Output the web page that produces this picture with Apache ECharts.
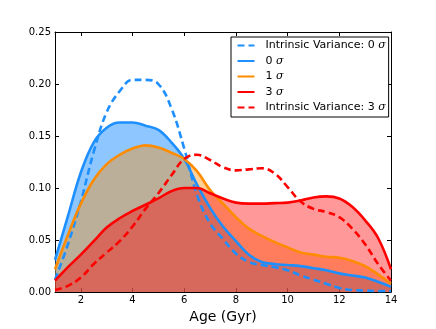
<!DOCTYPE html>
<html>
<head>
<meta charset="utf-8">
<script src="https://cdn.jsdelivr.net/npm/echarts@6/dist/echarts.min.js"></script>
<style>html,body{margin:0;padding:0;background:#fff}#c{width:436px;height:329px}</style>
</head>
<body>
<div id="c"></div>
<script>
const ages = [1,1.5,2,2.5,3,3.5,4,4.5,5,5.5,6,6.5,7,7.5,8,8.5,9,9.5,10,10.5,11,11.5,12,12.5,13,13.5,14];
const iv0 = [0.012,0.046,0.087,0.135,0.173,0.193,0.204,0.204,0.200,0.177,0.138,0.093,0.066,0.051,0.037,0.029,0.026,0.024,0.021,0.016,0.012,0.008,0.004,0.002,0.0015,0.001,0.001];
const s0 = [0.031,0.073,0.115,0.144,0.158,0.163,0.163,0.160,0.156,0.144,0.128,0.103,0.081,0.063,0.049,0.036,0.029,0.027,0.026,0.025,0.023,0.021,0.018,0.016,0.014,0.010,0.005];
const s1 = [0.022,0.055,0.085,0.108,0.123,0.132,0.138,0.141,0.139,0.134,0.128,0.116,0.098,0.085,0.072,0.061,0.054,0.048,0.043,0.038,0.036,0.034,0.033,0.030,0.025,0.017,0.008];
const s3 = [0.011,0.024,0.036,0.049,0.062,0.071,0.078,0.084,0.090,0.097,0.100,0.100,0.095,0.090,0.086,0.085,0.085,0.0855,0.086,0.088,0.091,0.092,0.090,0.082,0.069,0.052,0.022];
const iv3 = [0.002,0.006,0.014,0.027,0.038,0.049,0.063,0.080,0.095,0.112,0.128,0.132,0.127,0.120,0.117,0.118,0.119,0.114,0.101,0.087,0.080,0.077,0.072,0.061,0.046,0.027,0.011];
const xTicks = [2,4,6,8,10,12,14];
const names = ['Intrinsic Variance: 0 σ','0 σ','1 σ','3 σ','Intrinsic Variance: 3 σ'];

const pts = arr => ages.map((a,i)=>[a,arr[i]]);
const BLUE='#1e8fff', ORANGE='#ff8c00', RED='#ff0000';
const font='DejaVu Sans';

function area(data,color){
  return {type:'line',data:pts(data),smooth:0.4,symbol:'none',z:1,silent:true,
    lineStyle:{width:0},areaStyle:{color:color,opacity:1},legendHoverLink:false};
}
function line(name,data,color,dashed){
  return {name:name,type:'line',data:pts(data),smooth:0.4,symbol:'none',z:5,
    lineStyle:{color:color,width:2.6,type:dashed?[7,4]:'solid'},itemStyle:{color:color}};
}

const chart = echarts.init(document.getElementById('c'),null,{renderer:'canvas'});
chart.setOption({
  animation:false,
  backgroundColor:'#fff',
  grid:{left:55,right:45,top:32,bottom:34},
  legend:{
    data:names,orient:'vertical',left:231,top:37,icon:'inherit',
    padding:[2.5,3,3.5,5.5],itemGap:3.5,itemWidth:17,itemHeight:12,
    itemStyle:{opacity:0},
    borderColor:'#000',borderWidth:1,backgroundColor:'#fff',
    textStyle:{fontFamily:font,fontSize:11,color:'#000',lineHeight:12,padding:[0,0,0,6],
      rich:{i:{fontFamily:'DejaVu Serif',fontStyle:'italic',fontSize:11,lineHeight:12}}},
    formatter:n=>n.replace('σ','{i|σ}')
  },
  xAxis:[{
    type:'value',min:1,max:14,position:'bottom',
    name:'Age (Gyr)',nameLocation:'middle',nameGap:13,
    nameTextStyle:{fontFamily:font,fontSize:14,color:'#000'},
    axisLine:{show:true,onZero:false,lineStyle:{color:'#000',width:1}},
    axisTick:{show:true,inside:true,length:4,customValues:xTicks,lineStyle:{color:'#000'}},
    axisLabel:{customValues:xTicks,fontFamily:font,fontSize:10,color:'#000',margin:3},
    splitLine:{show:false}
  },{
    type:'value',min:1,max:14,position:'top',
    axisLine:{show:true,onZero:false,lineStyle:{color:'#000',width:1}},
    axisTick:{show:true,inside:true,length:4,customValues:xTicks,lineStyle:{color:'#000'}},
    axisLabel:{show:false},splitLine:{show:false}
  }],
  yAxis:[{
    type:'value',min:0,max:0.25,interval:0.05,position:'left',
    axisLine:{show:true,onZero:false,lineStyle:{color:'#000',width:1}},
    axisTick:{show:true,inside:true,length:4,lineStyle:{color:'#000'}},
    axisLabel:{fontFamily:font,fontSize:10,color:'#000',margin:4,formatter:v=>v.toFixed(2)},
    splitLine:{show:false}
  },{
    type:'value',min:0,max:0.25,interval:0.05,position:'right',
    axisLine:{show:true,onZero:false,lineStyle:{color:'#000',width:1}},
    axisTick:{show:true,inside:true,length:4,lineStyle:{color:'#000'}},
    axisLabel:{show:false},splitLine:{show:false}
  }],
  series:[
    area(s0,'rgba(30,144,255,0.5)'),
    area(s1,'rgba(255,140,0,0.4)'),
    area(s3,'rgba(255,0,0,0.4)'),
    line(names[0],iv0,BLUE,true),
    line(names[1],s0,BLUE,false),
    line(names[2],s1,ORANGE,false),
    line(names[3],s3,RED,false),
    line(names[4],iv3,RED,true)
  ]
});
</script>
</body>
</html>
